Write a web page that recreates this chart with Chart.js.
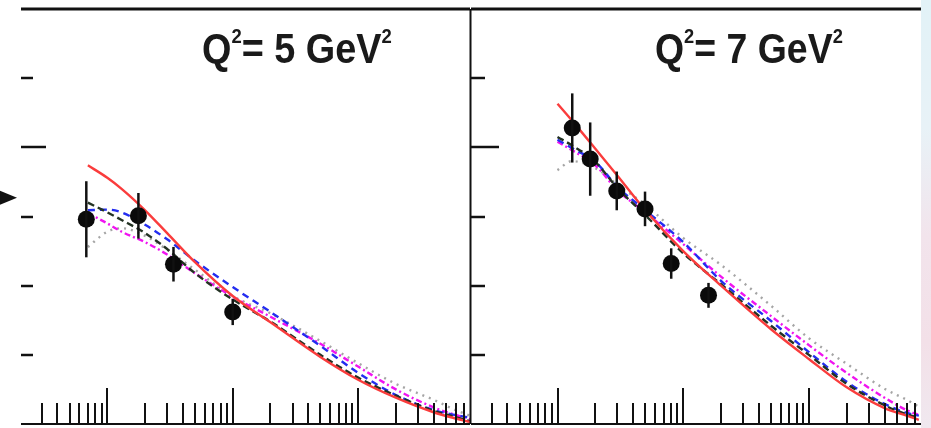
<!DOCTYPE html>
<html>
<head>
<meta charset="utf-8">
<script src="https://cdn.jsdelivr.net/npm/chart.js@4.4.1/dist/chart.umd.min.js"></script>
<style>
  html, body { margin: 0; padding: 0; background: #fff; }
  #wrap { position: relative; width: 931px; height: 428px; overflow: hidden; background: #fff; }
  canvas { position: absolute; top: 0; }
  #edge { position: absolute; left: 921px; top: 0; width: 10px; height: 428px;
    background: linear-gradient(to bottom, #e2f2f7 0%, #e8f2f7 30%, #f2e4ec 55%, #f3e0e8 80%, #f0e8ef 100%); }
  .q2 { position: absolute; font-family: "Liberation Sans Narrow", "Arial Narrow", "Liberation Sans", Arial, sans-serif;
    font-weight: bold; font-size: 43px; line-height: 43px; color: #1a1a1a; white-space: nowrap; transform-origin: 0 0; }
  .q2 span { font-size: 21px; position: relative; top: -20px; }
</style>
</head>
<body>
<div id="wrap">
  <div id="edge"></div>
  <canvas id="left" width="471" height="428" style="left:0;width:471px;height:428px"></canvas>
  <canvas id="right" width="466" height="428" style="left:465px;width:466px;height:428px"></canvas>
  <div class="q2" id="t5" style="left:202px;top:27px">Q<span>2</span>= 5 GeV<span>2</span></div>
  <div class="q2" id="t7" style="left:655px;top:27px">Q<span>2</span>= 7 GeV<span>2</span></div>
</div>
<script>
// axis ticks (no labels on the original)
const xMajorTicks = [1e-3, 1e-2, 1e-1];
const xMinorTicks = [3e-4, 4e-4, 5e-4, 6e-4, 7e-4, 8e-4, 9e-4,
  2e-3, 3e-3, 4e-3, 5e-3, 6e-3, 7e-3, 8e-3, 9e-3,
  2e-2, 3e-2, 4e-2, 5e-2, 6e-2, 7e-2, 8e-2, 9e-2,
  0.2, 0.3, 0.4, 0.5, 0.6, 0.7];
const yMajorTicks = [4];
const yMinorTicks = [1, 2, 3, 5];

// Q2 = 5 GeV2 panel
const dataX5 = [6.8e-4, 1.77e-3, 3.37e-3, 0.01];
const dataY5 = [2.96, 3.01, 2.31, 1.62];
const dataErr5 = [0.55, 0.33, 0.25, 0.19];
const curveX5 = [7e-4, 1e-3, 1.3e-3, 2e-3, 3e-3, 5e-3, 0.01, 0.02, 0.05, 0.1, 0.2, 0.4, 0.6, 0.78];
const red5     = [3.74, 3.56, 3.40, 3.09, 2.76, 2.34, 1.85, 1.47, 0.97, 0.64, 0.38, 0.17, 0.08, 0.03];
const blue5    = [3.09, 3.10, 3.06, 2.88, 2.67, 2.36, 1.98, 1.62, 1.13, 0.74, 0.42, 0.20, 0.13, 0.09];
const black5   = [3.20, 3.06, 2.95, 2.76, 2.53, 2.18, 1.80, 1.48, 1.00, 0.67, 0.41, 0.19, 0.10, 0.04];
const magenta5 = [3.05, 2.90, 2.78, 2.63, 2.45, 2.18, 1.84, 1.55, 1.16, 0.83, 0.50, 0.24, 0.13, 0.07];
const gray5    = [2.56, 2.78, 2.83, 2.72, 2.52, 2.23, 1.85, 1.60, 1.20, 0.88, 0.58, 0.35, 0.20, 0.12];

// Q2 = 7 GeV2 panel
const dataX7 = [1.31e-3, 1.82e-3, 2.96e-3, 4.97e-3, 8.03e-3, 0.0159];
const dataY7 = [4.28, 3.83, 3.37, 3.11, 2.32, 1.86];
const dataErr7 = [0.50, 0.53, 0.28, 0.25, 0.22, 0.18];
const curveX7 = [1e-3, 1.3e-3, 2e-3, 3e-3, 5e-3, 0.01, 0.02, 0.05, 0.1, 0.2, 0.4, 0.6, 0.75];
const red7     = [4.63, 4.39, 3.98, 3.59, 3.09, 2.50, 2.00, 1.37, 0.94, 0.53, 0.23, 0.12, 0.06];
const blue7    = [4.11, 3.99, 3.79, 3.43, 3.09, 2.63, 2.07, 1.49, 1.04, 0.61, 0.29, 0.16, 0.12];
const black7   = [4.15, 4.03, 3.79, 3.41, 3.02, 2.47, 2.02, 1.42, 1.00, 0.58, 0.27, 0.14, 0.09];
const magenta7 = [4.08, 3.96, 3.74, 3.38, 3.06, 2.60, 2.13, 1.56, 1.14, 0.74, 0.38, 0.20, 0.13];
const gray7    = [3.67, 3.80, 3.70, 3.46, 3.17, 2.69, 2.30, 1.71, 1.24, 0.87, 0.51, 0.35, 0.25];

const arrowY = 3.27;

const toXY = (xs, ys) => xs.map((x, i) => ({x: x, y: ys[i]}));

const framePlugin = {
  id: 'frame',
  afterDatasetsDraw(chart, args, opts) {
    const ctx = chart.ctx;
    const a = chart.chartArea;
    const x = chart.scales.x, y = chart.scales.y;
    const line = (x1, y1, x2, y2) => { ctx.beginPath(); ctx.moveTo(x1, y1); ctx.lineTo(x2, y2); ctx.stroke(); };
    ctx.save();
    ctx.strokeStyle = '#111';
    ctx.fillStyle = '#111';

    // error bars
    ctx.lineWidth = 2.5;
    opts.errX.forEach((v, i) => {
      const px = x.getPixelForValue(v);
      line(px, y.getPixelForValue(opts.errY[i] + opts.err[i]), px, y.getPixelForValue(opts.errY[i] - opts.err[i]));
    });

    // x ticks, drawn inward
    ctx.lineWidth = 2;
    xMinorTicks.forEach(v => { const px = Math.round(x.getPixelForValue(v)); line(px, a.bottom, px, a.bottom - 21); });
    xMajorTicks.forEach(v => { const px = Math.round(x.getPixelForValue(v)); line(px, a.bottom, px, a.bottom - 36); });

    // y ticks
    ctx.lineWidth = 2.5;
    yMinorTicks.forEach(v => { const py = Math.round(y.getPixelForValue(v)); line(a.left, py, a.left + opts.minorLen, py); });
    yMajorTicks.forEach(v => { const py = Math.round(y.getPixelForValue(v)); line(a.left, py, a.left + opts.majorLen, py); });

    // frame
    ctx.lineWidth = 3;
    line(a.left, a.top, a.right, a.top);
    ctx.lineWidth = 2;
    line(a.left, a.bottom, a.right, a.bottom);
    if (opts.leftBorder) line(a.left - 0.5, a.top, a.left - 0.5, a.bottom);

    // arrow marker on the left margin
    if (opts.arrow) {
      const py = y.getPixelForValue(arrowY);
      ctx.beginPath();
      ctx.moveTo(0, py - 7); ctx.lineTo(17, py); ctx.lineTo(0, py + 7);
      ctx.closePath(); ctx.fill();
    }
    ctx.restore();
  }
};

function makePanel(id, pad, px, py, cx, red, blue, black, magenta, gray, frameOpts) {
  const curve = (label, ys, color, dash) => ({
    label: label, data: toXY(cx, ys), borderColor: color, borderWidth: 2.4, borderDash: dash,
    pointRadius: 0, fill: false, cubicInterpolationMode: 'monotone'
  });
  new Chart(document.getElementById(id), {
    type: 'line',
    data: {
      datasets: [
        { label: 'data', data: toXY(px, py), showLine: false, pointRadius: 8.5,
          pointBackgroundColor: '#0a0a0a', pointBorderWidth: 0 },
        curve('red', red, 'rgb(250,60,60)', []),
        curve('black', black, 'rgb(35,50,35)', [7, 4]),
        curve('blue', blue, 'rgb(35,45,240)', [7, 5]),
        curve('magenta', magenta, 'rgb(240,20,240)', [6, 3, 2, 3]),
        curve('gray', gray, 'rgb(165,165,165)', [2, 5])
      ]
    },
    options: {
      responsive: false,
      animation: false,
      layout: { padding: pad, autoPadding: false },
      scales: {
        x: { type: 'logarithmic', min: 2.05e-4, max: 0.78, display: false },
        y: { type: 'linear', min: 0, max: 6, display: false }
      },
      plugins: {
        legend: { display: false },
        tooltip: { enabled: false },
        frame: frameOpts
      }
    },
    plugins: [framePlugin]
  });
}

makePanel('left', { left: 21, right: 1, top: 9, bottom: 4 }, dataX5, dataY5, curveX5,
  red5, blue5, black5, magenta5, gray5,
  { errX: dataX5, errY: dataY5, err: dataErr5, minorLen: 12, majorLen: 25, leftBorder: false, arrow: true });

makePanel('right', { left: 6, right: 10, top: 9, bottom: 4 }, dataX7, dataY7, curveX7,
  red7, blue7, black7, magenta7, gray7,
  { errX: dataX7, errY: dataY7, err: dataErr7, minorLen: 14, majorLen: 28, leftBorder: true, arrow: false });

// squeeze the panel labels to the narrow width of the original lettering
function fitLabel(id, w) {
  const el = document.getElementById(id);
  el.style.transform = 'scaleX(' + (w / el.offsetWidth) + ')';
}
fitLabel('t5', 190);
fitLabel('t7', 188);
</script>
</body>
</html>
